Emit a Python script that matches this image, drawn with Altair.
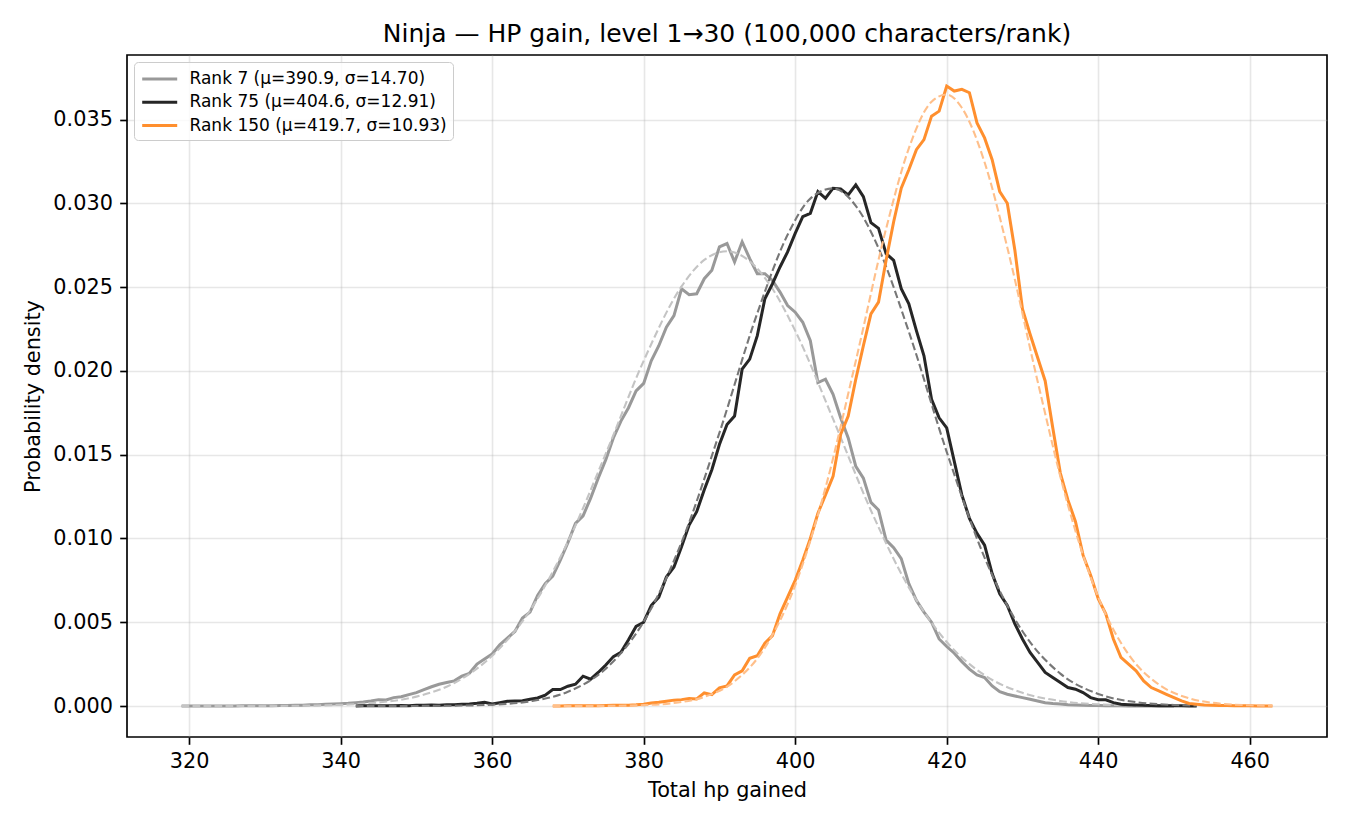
import altair as alt
import pandas as pd

FONT = "DejaVu Sans"

labels = ["Rank 7 (μ=390.9, σ=14.70)", "Rank 75 (μ=404.6, σ=12.91)", "Rank 150 (μ=419.7, σ=10.93)"]
line_colors = ["#999999", "#262626", "#ff8f2e"]
fit_colors = ["#c4c4c4", "#777777", "#ffbf8a"]

x_ticks = [320, 340, 360, 380, 400, 420, 440, 460]
y_ticks = [0.0, 0.005, 0.010, 0.015, 0.020, 0.025, 0.030, 0.035]

# empirical densities (one value per hp)
rank7_start = 319
rank7_density = [
    0, 0, 0, 0, 0, 0, 0, 0,
    0.00001, 0.00001, 0.00001,
    0.00002, 0.00002, 0.00003, 0.00003, 0.00005, 0.00004, 0.00007, 0.00008, 0.00010, 0.00012,
    0.00014, 0.00016, 0.00020, 0.00024, 0.00030, 0.00038, 0.00036, 0.00050, 0.00055, 0.00068,
    0.00080, 0.00098, 0.00115, 0.00130, 0.00140, 0.00150, 0.00178, 0.00195, 0.00250, 0.00280,
    0.00310, 0.00365, 0.00405, 0.00445, 0.00525, 0.00560, 0.00660, 0.00730, 0.00775, 0.00870,
    0.00975, 0.01090, 0.01135, 0.01240, 0.01360, 0.01470, 0.01600, 0.01700, 0.01780, 0.01880,
    0.01925, 0.02060, 0.02150, 0.02260, 0.02330, 0.02490, 0.02455, 0.02460, 0.02550, 0.02600,
    0.02740, 0.02760, 0.02650, 0.02770, 0.02670, 0.02580, 0.02580, 0.02540, 0.02470, 0.02390,
    0.02350, 0.02290, 0.02180, 0.01930, 0.01950, 0.01860, 0.01720, 0.01600, 0.01430, 0.01360,
    0.01215, 0.01170, 0.00990, 0.00945, 0.00880, 0.00730, 0.00630, 0.00560, 0.00500, 0.00400,
    0.00355, 0.00315, 0.00265, 0.00220, 0.00185, 0.00170, 0.00120, 0.00085, 0.00070, 0.00060,
    0.00050, 0.00040, 0.00030, 0.00020, 0.00015, 0.00012, 0.00008, 0.00006, 0.00004, 0.00003,
    0.00003, 0.00002, 0.00001, 0.00001, 0, 0, 0, 0, 0, 0, 0,
]

rank75_start = 342
rank75_density = [
    0.00000, 0.00001, 0.00001, 0.00002, 0.00001, 0.00002, 0.00003, 0.00002,
    0.00004, 0.00004, 0.00006, 0.00005, 0.00008, 0.00008, 0.00010, 0.00012, 0.00016, 0.00022,
    0.00012, 0.00020, 0.00028, 0.00030, 0.00032, 0.00040, 0.00048, 0.00065, 0.00098, 0.00098,
    0.00118, 0.00130, 0.00178, 0.00160, 0.00200, 0.00245, 0.00295, 0.00320, 0.00395, 0.00475,
    0.00500, 0.00600, 0.00650, 0.00770, 0.00830, 0.00950, 0.01080, 0.01160, 0.01290, 0.01410,
    0.01560, 0.01680, 0.01730, 0.02010, 0.02070, 0.02210, 0.02430, 0.02520, 0.02620, 0.02710,
    0.02820, 0.02920, 0.02940, 0.03070, 0.03030, 0.03090, 0.03085, 0.03050, 0.03110, 0.03040,
    0.02885, 0.02850, 0.02700, 0.02660, 0.02490, 0.02400, 0.02240, 0.02090, 0.01830, 0.01720,
    0.01660, 0.01460, 0.01260, 0.01120, 0.01030, 0.00960, 0.00790, 0.00670, 0.00600, 0.00490,
    0.00400, 0.00320, 0.00260, 0.00200, 0.00170, 0.00140, 0.00110, 0.00100, 0.00080, 0.00050,
    0.00038, 0.00037, 0.00020, 0.00010, 0.00008, 0.00006, 0.00004, 0.00003, 0.00002, 0.00002,
    0.00001, 0.00001, 0.00000, 0.00000,
]

rank150_start = 368
rank150_density = [
    0.00000, 0.00000, 0.00001, 0.00001, 0.00001, 0.00002, 0.00002, 0.00003, 0.00004, 0.00004, 0.00005, 0.00007,
    0.00010, 0.00018, 0.00022, 0.00028, 0.00035, 0.00038, 0.00045, 0.00042, 0.00078, 0.00068,
    0.00108, 0.00120, 0.00185, 0.00210, 0.00285, 0.00300, 0.00375, 0.00420, 0.00550, 0.00650,
    0.00750, 0.00870, 0.01000, 0.01150, 0.01260, 0.01370, 0.01620, 0.01730, 0.01950, 0.02150,
    0.02340, 0.02410, 0.02660, 0.02890, 0.03090, 0.03200, 0.03320, 0.03380, 0.03520, 0.03550,
    0.03700, 0.03670, 0.03680, 0.03660, 0.03480, 0.03390, 0.03260, 0.03070, 0.03000, 0.02720,
    0.02370, 0.02220, 0.02080, 0.01940, 0.01660, 0.01390, 0.01230, 0.01100, 0.00900, 0.00780,
    0.00640, 0.00550, 0.00400, 0.00290, 0.00250, 0.00210, 0.00150, 0.00110, 0.00090, 0.00070,
    0.00050, 0.00030, 0.00015, 0.00010, 0.00006, 0.00005, 0.00003, 0.00003, 0.00002, 0.00001,
    0.00001, 0.00000, 0.00000, 0.00000,
]

# dashed normal-fit curves, read at sample points
rank7_fit_x = [319, 325, 330, 335, 340, 345, 350, 355, 360, 365, 370, 375, 380, 385, 388, 391,
               394, 397, 400, 405, 410, 415, 420, 425, 430, 435, 440, 445, 450]
rank7_fit_y = [0.0000002, 0.0000012, 0.000005, 0.00002, 0.000068, 0.00021, 0.00056, 0.00137,
               0.0030, 0.0057, 0.0098, 0.01506, 0.0206, 0.02504, 0.02662, 0.02714, 0.02654,
               0.0249, 0.0224, 0.01713, 0.01167, 0.00708, 0.00382, 0.00184, 0.00079, 0.0003,
               0.0001, 0.00003, 0.000008]

rank75_fit_x = [342, 345, 350, 355, 360, 365, 370, 375, 380, 385, 390, 395, 399, 402, 405, 408,
                411, 415, 420, 425, 430, 435, 440, 445, 450, 453]
rank75_fit_y = [0.0000002, 0.0000007, 0.000004, 0.000019, 0.000079, 0.00028, 0.00085, 0.00223,
                0.00503, 0.00976, 0.0163, 0.02344, 0.02812, 0.03028, 0.03089, 0.02985, 0.02733,
                0.02234, 0.01517, 0.00886, 0.00446, 0.00193, 0.00072, 0.00023, 0.000064, 0.000027]

rank150_fit_x = [368, 372, 376, 380, 384, 388, 392, 396, 400, 404, 408, 412, 415, 418, 420, 422,
                 425, 428, 432, 436, 440, 444, 448, 452, 456, 460, 463]
rank150_fit_y = [0.0000005, 0.0000027, 0.000012, 0.00005, 0.000176, 0.000545, 0.00147, 0.00348,
                 0.0072, 0.01302, 0.02059, 0.02848, 0.03328, 0.03606, 0.03649, 0.0357, 0.03245,
                 0.02736, 0.01938, 0.012, 0.0065, 0.00308, 0.00128, 0.00046, 0.000147, 0.000041,
                 0.000014]

starts = [rank7_start, rank75_start, rank150_start]
dens = [rank7_density, rank75_density, rank150_density]
fits = [(rank7_fit_x, rank7_fit_y), (rank75_fit_x, rank75_fit_y), (rank150_fit_x, rank150_fit_y)]

emp_rows = []
for lab, s, d in zip(labels, starts, dens):
    for i, v in enumerate(d):
        emp_rows.append({"series": lab, "hp": s + i, "density": v})
emp_df = pd.DataFrame(emp_rows)

fit_rows = []
for lab, (fx, fy) in zip(labels, fits):
    for a, b in zip(fx, fy):
        fit_rows.append({"series": lab, "hp": a, "density": b})
fit_df = pd.DataFrame(fit_rows)

x_enc = alt.X(
    "hp:Q",
    scale=alt.Scale(domain=[311.8, 470.2], nice=False, zero=False),
    axis=alt.Axis(values=x_ticks, title="Total hp gained", format="d"),
)
y_enc = alt.Y(
    "density:Q",
    scale=alt.Scale(domain=[-0.00185, 0.03885], nice=False, zero=False),
    axis=alt.Axis(values=y_ticks, title="Probability density", format=".3f"),
)

color_enc = alt.Color(
    "series:N",
    scale=alt.Scale(domain=labels, range=line_colors),
    sort=labels,
    legend=alt.Legend(
        title=None,
        orient="none",
        legendX=7,
        legendY=7,
        symbolType="M-0.88,0L2.62,0",
        symbolSize=400,
        symbolStrokeWidth=3,
        labelOffset=27,
        labelLimit=0,
        rowPadding=3.3,
        padding=5.5,
        labelFont=FONT,
        labelFontSize=17,
        labelColor="#000000",
        strokeColor="#cccccc",
        fillColor="rgba(255,255,255,0.8)",
        cornerRadius=4,
    ),
)

layers = []
for lab, fc in zip(labels, fit_colors):
    solid = (
        alt.Chart(emp_df)
        .transform_filter(alt.datum.series == lab)
        .mark_line(strokeWidth=3)
        .encode(x=x_enc, y=y_enc, color=color_enc)
    )
    dashed = (
        alt.Chart(fit_df)
        .transform_filter(alt.datum.series == lab)
        .mark_line(strokeWidth=2.1, strokeDash=[7.7, 3.3], color=fc, interpolate="monotone")
        .encode(x=x_enc, y=y_enc)
    )
    layers += [solid, dashed]

chart = (
    alt.layer(*layers)
    .properties(
        width=1200,
        height=682,
        background="#ffffff",
        autosize=alt.AutoSizeParams(type="none"),
        padding={"left": 119, "top": 47, "right": 15, "bottom": 80},
        title=alt.TitleParams(
            "Ninja — HP gain, level 1→30 (100,000 characters/rank)",
            font=FONT,
            fontSize=25,
            fontWeight="normal",
            color="#000000",
            anchor="middle",
            offset=8,
        ),
    )
    .configure_view(stroke="#000000", strokeWidth=1.67)
    .configure_axis(
        domain=False,
        grid=True,
        gridColor="#b0b0b0",
        gridOpacity=0.3,
        gridWidth=1.6,
        tickColor="#000000",
        tickWidth=1.67,
        tickSize=7.3,
        labelPadding=7.3,
        labelFont=FONT,
        labelFontSize=20.8,
        labelColor="#000000",
        titleFont=FONT,
        titleFontSize=20.8,
        titleFontWeight="normal",
        titleColor="#000000",
        titlePadding=9,
    )
)

chart.save("out.html", embed_options={"renderer": "svg", "actions": False})
